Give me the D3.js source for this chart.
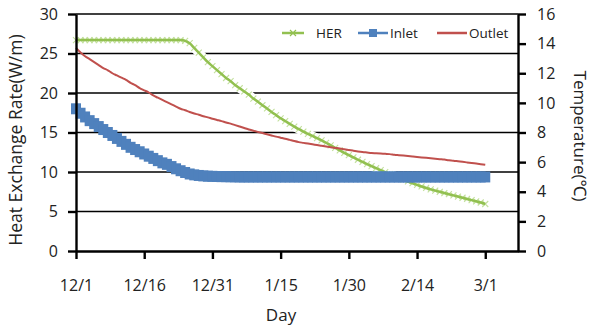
<!DOCTYPE html>
<html lang="en">
<head>
<meta charset="UTF-8">
<title>Heat exchange rate</title>
<script src="https://cdn.jsdelivr.net/npm/d3@7"></script>
<style>
  body { margin: 0; background: #fff; }
  svg text { font-family: "Open Sans", "Noto Sans", sans-serif; fill: #222; }
  .axis path, .axis line { stroke: #000; }
</style>
</head>
<body>
<script>
// day 0 = 12/1, one value per day up to 3/1 (day 90)
var dayLabels = ['12/1', '12/16', '12/31', '1/15', '1/30', '2/14', '3/1'];
var dayTicks = [0, 15, 30, 45, 60, 75, 90];

// HER, W/m (left axis)
var her = [26.7, 26.7, 26.7, 26.7, 26.7, 26.7, 26.7, 26.7, 26.7, 26.7,
  26.7, 26.7, 26.7, 26.7, 26.7, 26.7, 26.7, 26.7, 26.7, 26.7,
  26.7, 26.7, 26.7, 26.7, 26.6, 26.3, 25.7, 25.1, 24.5, 23.9,
  23.4, 22.9, 22.4, 21.9, 21.5, 21.0, 20.6, 20.2, 19.8, 19.3,
  18.9, 18.45, 18.05, 17.6, 17.2, 16.8, 16.45, 16.1, 15.75, 15.42,
  15.12, 14.84, 14.56, 14.28, 14.0, 13.7, 13.38, 13.06, 12.74, 12.43,
  12.13, 11.84, 11.55, 11.27, 11.0, 10.74, 10.48, 10.23, 9.98, 9.74,
  9.5, 9.26, 9.03, 8.8, 8.58, 8.37, 8.17, 7.98, 7.8, 7.64,
  7.49, 7.34, 7.19, 7.04, 6.89, 6.74, 6.59, 6.44, 6.29, 6.14, 5.95];

// Inlet temperature, degC (right axis)
var inlet = [9.6, 9.3, 9.05, 8.8, 8.6, 8.4, 8.2, 8.0, 7.8, 7.6,
  7.4, 7.2, 7.0, 6.85, 6.7, 6.55, 6.4, 6.25, 6.1, 5.95,
  5.85, 5.7, 5.55, 5.42, 5.3, 5.2, 5.14, 5.1, 5.07, 5.05,
  5.04, 5.03, 5.02, 5.02, 5.01, 5.01, 5.0, 5.0, 5.0, 5.0,
  5.0, 5.0, 5.0, 5.0, 5.0, 5.0, 5.0, 5.0, 5.0, 5.0,
  5.0, 5.0, 5.0, 5.0, 5.0, 5.0, 5.0, 5.0, 5.0, 5.0,
  5.0, 5.0, 5.0, 5.0, 5.0, 5.0, 5.0, 5.0, 5.0, 5.0,
  5.0, 5.0, 5.0, 5.0, 5.0, 5.0, 5.0, 5.0, 5.0, 5.0,
  5.0, 5.0, 5.0, 5.0, 5.0, 5.0, 5.0, 5.0, 5.0, 5.0, 5.0];

// Outlet temperature, degC (right axis)
var outlet = [13.7, 13.4, 13.15, 12.95, 12.75, 12.55, 12.35, 12.2, 12.0, 11.85,
  11.7, 11.55, 11.35, 11.2, 11.0, 10.85, 10.7, 10.5, 10.35, 10.2,
  10.05, 9.9, 9.75, 9.6, 9.5, 9.38, 9.28, 9.2, 9.1, 9.02,
  8.93, 8.85, 8.77, 8.68, 8.6, 8.5, 8.4, 8.3, 8.2, 8.12,
  8.04, 7.96, 7.88, 7.8, 7.72, 7.65, 7.58, 7.5, 7.42, 7.35,
  7.3, 7.25, 7.2, 7.15, 7.1, 7.05, 7.0, 6.96, 6.92, 6.87,
  6.82, 6.77, 6.72, 6.68, 6.65, 6.62, 6.6, 6.58, 6.56, 6.54,
  6.5, 6.47, 6.44, 6.41, 6.38, 6.35, 6.32, 6.29, 6.26, 6.23,
  6.2, 6.17, 6.13, 6.1, 6.06, 6.02, 5.98, 5.94, 5.9, 5.86, 5.82];

var w = 592, h = 330;
var pLeft = 76, pRight = 518, pTop = 14, pBottom = 251;

var svg = d3.select('body').append('svg')
  .attr('width', w)
  .attr('height', h);

var x = d3.scaleLinear().domain([0, 97.2]).range([pLeft, pRight]);
var yL = d3.scaleLinear().domain([0, 30]).range([pBottom, pTop]);
var yR = d3.scaleLinear().domain([0, 16]).range([pBottom, pTop]);

// gridlines
svg.append('g').selectAll('line')
  .data([5, 10, 15, 20, 25, 30])
  .enter().append('line')
  .attr('x1', pLeft).attr('x2', pRight)
  .attr('y1', d => yL(d)).attr('y2', d => yL(d))
  .attr('stroke', '#000')
  .attr('stroke-width', 1.6);

var lineHer = d3.line().x((d, i) => x(i)).y(d => yL(d)).curve(d3.curveMonotoneX);
var lineT = d3.line().x((d, i) => x(i)).y(d => yR(d)).curve(d3.curveMonotoneX);

// HER: white halo first, then x markers + line
svg.append('path').datum(her)
  .attr('d', lineHer)
  .attr('fill', 'none')
  .attr('stroke', '#fff')
  .attr('stroke-width', 9);

svg.append('g').selectAll('path')
  .data(her)
  .enter().append('path')
  .attr('d', 'M-3,-3L3,3M-3,3L3,-3')
  .attr('transform', (d, i) => 'translate(' + x(i) + ',' + yL(d) + ')')
  .attr('stroke', '#c3e09e')
  .attr('stroke-width', 1.1)
  .attr('fill', 'none');

svg.append('path').datum(her)
  .attr('d', lineHer)
  .attr('fill', 'none')
  .attr('stroke', '#92c050')
  .attr('stroke-width', 2.5);

// Inlet: thick band of square markers
svg.append('path').datum(inlet)
  .attr('d', lineT)
  .attr('fill', 'none')
  .attr('stroke', '#4f81bd')
  .attr('stroke-width', 2.5);

svg.append('g').selectAll('rect')
  .data(inlet)
  .enter().append('rect')
  .attr('x', (d, i) => x(i) - 5)
  .attr('y', d => yR(d) - 5.5)
  .attr('width', 10)
  .attr('height', 11)
  .attr('fill', '#4f81bd');

// Outlet
svg.append('path').datum(outlet)
  .attr('d', lineT)
  .attr('fill', 'none')
  .attr('stroke', '#c0504d')
  .attr('stroke-width', 2);

// axes
var xAxis = d3.axisBottom(x)
  .tickValues(dayTicks)
  .tickFormat((d, i) => dayLabels[i])
  .tickSize(8)
  .tickPadding(21)
  .tickSizeOuter(0);

var yAxisL = d3.axisLeft(yL)
  .tickValues([0, 5, 10, 15, 20, 25, 30])
  .tickSize(8)
  .tickPadding(10)
  .tickSizeOuter(0);

var yAxisR = d3.axisRight(yR)
  .tickValues(d3.range(0, 17, 2))
  .tickSize(8)
  .tickPadding(11)
  .tickSizeOuter(0);

svg.append('g').attr('class', 'x axis')
  .attr('transform', 'translate(0,' + pBottom + ')')
  .call(xAxis);
svg.append('g').attr('class', 'y axis')
  .attr('transform', 'translate(' + pLeft + ',0)')
  .call(yAxisL);
svg.append('g').attr('class', 'y axis')
  .attr('transform', 'translate(' + pRight + ',0)')
  .call(yAxisR);

svg.selectAll('.axis path').attr('stroke-width', 2.4);
svg.selectAll('.axis line').attr('stroke-width', 2.4);
svg.selectAll('.axis text')
  .attr('font-size', '16px')
  .attr('fill', '#222');

// axis titles
svg.append('text')
  .attr('x', 281).attr('y', 321)
  .attr('text-anchor', 'middle')
  .attr('font-size', '17px')
  .text('Day');

svg.append('text')
  .attr('transform', 'translate(22,140) rotate(-90)')
  .attr('text-anchor', 'middle')
  .attr('font-size', '17.5px')
  .text('Heat Exchange Rate(W/m)');

svg.append('text')
  .attr('transform', 'translate(574,136) rotate(90)')
  .attr('text-anchor', 'middle')
  .attr('font-size', '17px')
  .text('Temperature(℃)');

// legend
var legend = [
  { name: 'HER', color: '#92c050', x1: 282, x2: 304, tx: 316 },
  { name: 'Inlet', color: '#4f81bd', x1: 358, x2: 388, tx: 390 },
  { name: 'Outlet', color: '#c0504d', x1: 437, x2: 467, tx: 469 }
];
var ly = 33;
var lg = svg.append('g');
legend.forEach(function (l) {
  lg.append('line')
    .attr('x1', l.x1).attr('x2', l.x2)
    .attr('y1', ly).attr('y2', ly)
    .attr('stroke', l.color)
    .attr('stroke-width', 2.5);
  lg.append('text')
    .attr('x', l.tx).attr('y', ly + 5)
    .attr('font-size', '13.5px')
    .text(l.name);
});
lg.append('path')
  .attr('d', 'M-3,-3L3,3M-3,3L3,-3')
  .attr('transform', 'translate(293,' + ly + ')')
  .attr('stroke', '#92c050')
  .attr('stroke-width', 1.2);
lg.append('rect')
  .attr('x', 369).attr('y', ly - 4)
  .attr('width', 8).attr('height', 8)
  .attr('fill', '#4f81bd');
</script>
</body>
</html>
